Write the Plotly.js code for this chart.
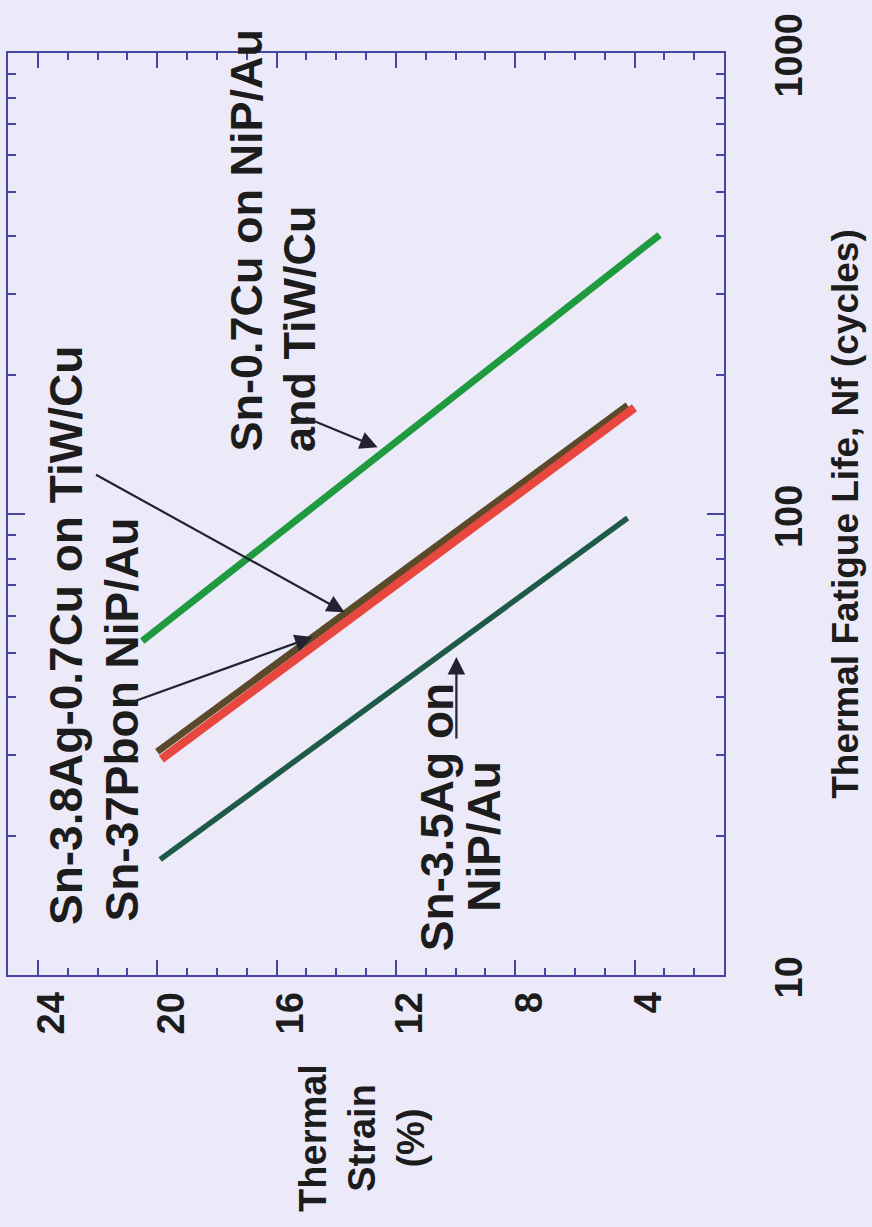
<!DOCTYPE html>
<html>
<head>
<meta charset="utf-8">
<script src="https://cdn.plot.ly/plotly-3.0.1.min.js"></script>
<style>
  html, body { margin: 0; padding: 0; background: #ECEAF8; }
  #chart { width: 872px; height: 1227px; }
</style>
</head>
<body>
<div id="chart"></div>
<script>
// ---- Data (chart is drawn rotated: strain runs horizontally, fatigue life vertically) ----
const seriesNames = ["Sn-3.5Ag on NiP/Au", "Sn-0.7Cu on NiP/Au and TiW/Cu", "Sn-3.8Ag-0.7Cu on TiW/Cu", "Sn-37Pb on NiP/Au"];
const strainSnAg   = [19.9, 4.23];
const lifeSnAg     = [17.8, 98];
const strainSnCu   = [20.5, 3.16];
const lifeSnCu     = [53, 403];
const strainSAC    = [20.0, 4.23];
const lifeSAC      = [30.5, 172];
const strainSnPb   = [19.86, 4.0];
const lifeSnPb     = [29.4, 170];

const strainTicks  = [24, 20, 16, 12, 8, 4];
const lifeTicks    = [10, 100, 1000];
const lifeTickText = ["10", "100", "1000"];
const lifeMinor    = [20, 30, 40, 50, 60, 70, 80, 90, 200, 300, 400, 500, 600, 700, 800, 900];

const frameColor = "#4646A2";
const inkColor = "#1c1c1c";
const fontFam = "Liberation Sans, Arial, Helvetica, sans-serif";

function line(x, y, color, width, name) {
  return { type: "scatter", mode: "lines", x: x, y: y, name: name,
           line: { color: color, width: width }, hoverinfo: "name" };
}

const traces = [
  line(strainSnAg, lifeSnAg, "#1D5A48", 5.5, seriesNames[0]),
  line(strainSnCu, lifeSnCu, "#1F9A3E", 7, seriesNames[1]),
  line(strainSAC,  lifeSAC,  "#5A4A2A", 7, seriesNames[2]),
  line(strainSnPb, lifeSnPb, "#E8473F", 8.5, seriesNames[3])
];

function label(text, x, y, size) {
  return { xref: "paper", yref: "paper", x: x, y: y, text: text, showarrow: false,
           textangle: -90, xanchor: "center", yanchor: "middle",
           font: { family: fontFam, size: size, color: inkColor, weight: 700 } };
}
function arrow(tipS, tipLogN, tailS, tailLogN) {
  return { xref: "x", yref: "y", axref: "x", ayref: "y",
           x: tipS, y: tipLogN, ax: tailS, ay: tailLogN, text: "",
           showarrow: true, arrowhead: 2, arrowsize: 1.6, arrowwidth: 2.2,
           arrowcolor: "#222233", standoff: 0, startstandoff: 0 };
}

const annotations = [
  label("Sn-3.8Ag-0.7Cu on TiW/Cu", 0.080, 0.368, 46),
  label("Sn-37Pbon NiP/Au", 0.159, 0.277, 46),
  label("Sn-0.7Cu on NiP/Au", 0.333, 0.797, 45),
  label("and TiW/Cu", 0.407, 0.701, 45),
  label("Sn-3.5Ag on", 0.599, 0.171, 46),
  label("NiP/Au", 0.665, 0.150, 46),
  label("Thermal<br>Strain<br>(%)", 0.494, -0.177, 38),
  arrow(12.61, 2.145, 15.06, 2.210),
  arrow(13.72, 1.787, 22.10, 2.087),
  arrow(14.79, 1.733, 20.93, 1.590),
  arrow(9.97, 1.690, 9.97, 1.510)
];

const layout = {
  width: 872, height: 1227,
  margin: { l: 8, r: 148, t: 53, b: 252, pad: 0, autoexpand: false },
  paper_bgcolor: "#ECEAF8", plot_bgcolor: "#ECEAF8",
  showlegend: false,
  font: { family: fontFam, color: inkColor },
  xaxis: {
    range: [25, 1], tickmode: "array", tickvals: strainTicks,
    ticks: "inside", ticklen: 15, tickwidth: 2, tickcolor: frameColor,
    minor: { tickmode: "linear", tick0: 0, dtick: 1, ticks: "inside", ticklen: 7, tickwidth: 2, tickcolor: frameColor },
    showline: true, linecolor: frameColor, linewidth: 2, mirror: "ticks",
    showgrid: false, zeroline: false, tickangle: -90,
    ticklabelstandoff: 0, ticklabelshift: -14,
    tickfont: { family: fontFam, size: 38, color: inkColor, weight: 700 }
  },
  yaxis: {
    type: "log", range: [1, 3], side: "right",
    tickmode: "array", tickvals: lifeTicks, ticktext: lifeTickText,
    ticks: "inside", ticklen: 17, tickwidth: 2, tickcolor: frameColor,
    minor: { tickmode: "array", tickvals: lifeMinor, ticks: "inside", ticklen: 8, tickwidth: 2, tickcolor: frameColor },
    showline: true, linecolor: frameColor, linewidth: 2, mirror: "ticks",
    showgrid: false, zeroline: false, tickangle: -90,
    ticklabelstandoff: 30, ticklabelshift: 8,
    tickfont: { family: fontFam, size: 38, color: inkColor, weight: 700 },
    title: { text: "Thermal Fatigue Life, Nf (cycles)", standoff: 24,
             font: { family: fontFam, size: 37, color: inkColor, weight: 700 } }
  },
  annotations: annotations
};

Plotly.newPlot("chart", traces, layout, { displayModeBar: false, staticPlot: true });
</script>
</body>
</html>
